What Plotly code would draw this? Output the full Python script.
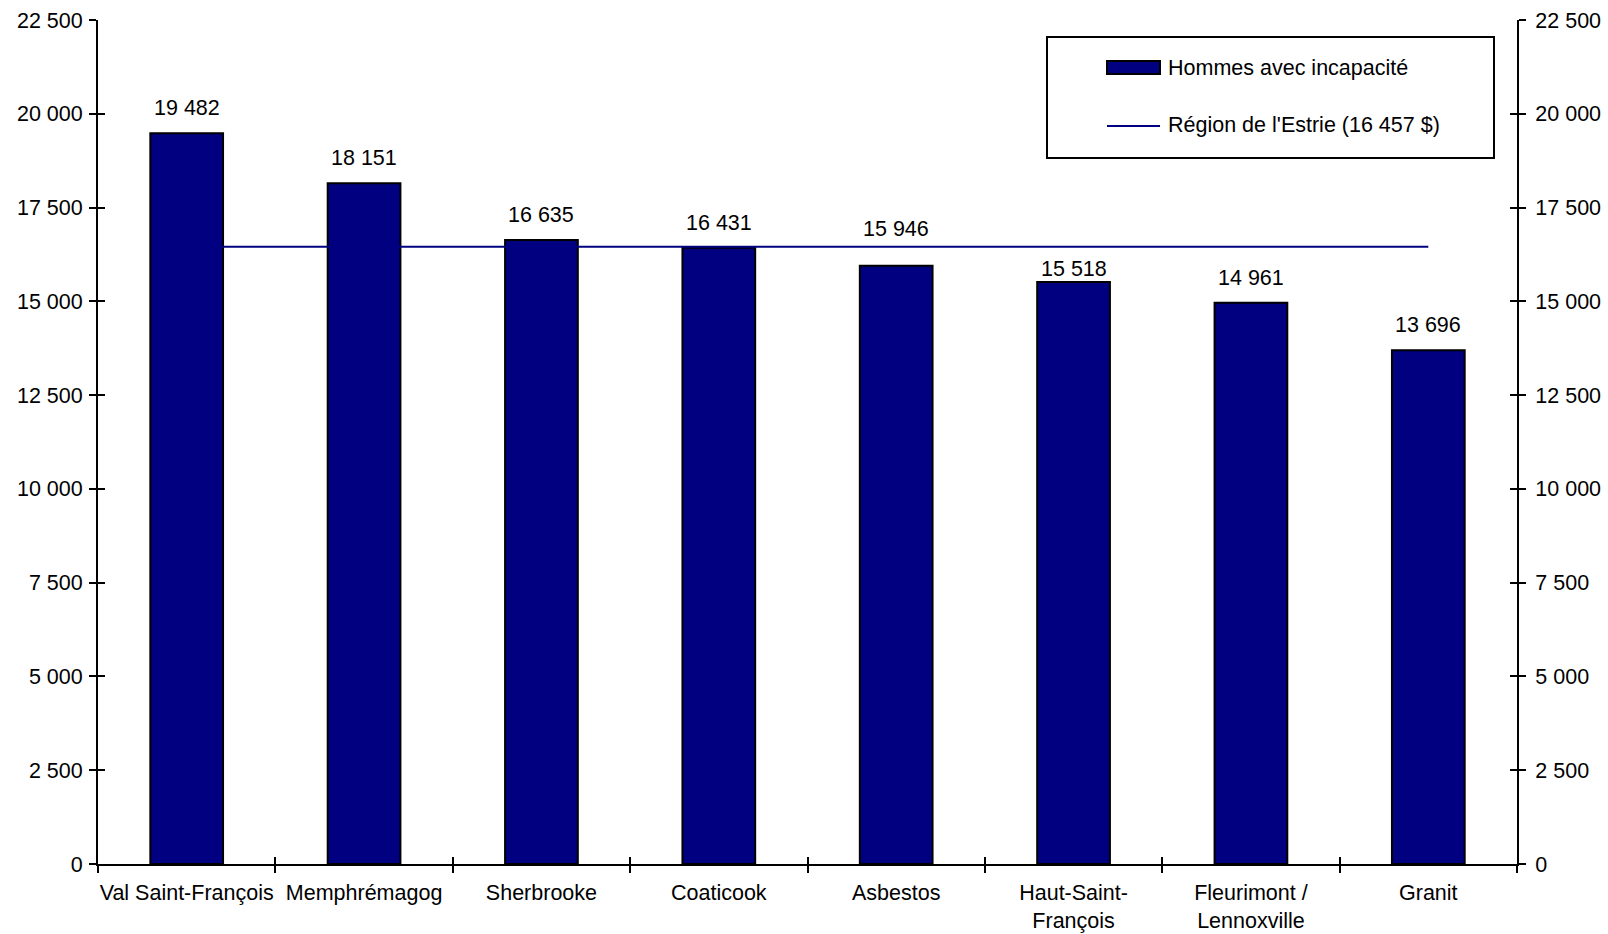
import plotly.graph_objects as go

categories = ["Val Saint-François", "Memphrémagog", "Sherbrooke", "Coaticook",
              "Asbestos", "Haut-Saint-<br>François", "Fleurimont /<br>Lennoxville", "Granit"]
values = [19482, 18151, 16635, 16431, 15946, 15518, 14961, 13696]
region_value = 16457
bar_name = "Hommes avec incapacité"
line_name = "Région de l'Estrie (16 457 $)"
tick_vals = [0, 2500, 5000, 7500, 10000, 12500, 15000, 17500, 20000, 22500]
tick_text = ["0", "2 500", "5 000", "7 500", "10 000", "12 500", "15 000", "17 500", "20 000", "22 500"]

NAVY = "#000080"
FONT = dict(family="Liberation Sans, Arial, sans-serif", size=21.5, color="black")

W, H = 1608, 934
L, R, T, B = 98, 91, 20, 70
PW, PH = W - L - R, H - T - B

# label offsets (px) to keep value labels clear of the region line
label_shift = [11, 11, 11, 11, 23, -1, 11, 11]


def px(x):
    return (x - L) / PW


def py(y):
    return (H - B - y) / PH


fig = go.Figure()
fig.add_trace(go.Bar(x=categories, y=values, name=bar_name, width=0.41,
                     marker=dict(color=NAVY, line=dict(color="black", width=2)),
                     xaxis="x", yaxis="y", showlegend=False))
fig.add_trace(go.Scatter(x=categories, y=[region_value] * len(categories), name=line_name,
                         mode="lines", line=dict(color=NAVY, width=2),
                         xaxis="x2", yaxis="y2", showlegend=False))

annotations = []
for c, v, s in zip(categories, values, label_shift):
    annotations.append(dict(x=c, y=v, xref="x", yref="y", text=f"{v:,}".replace(",", " "),
                            showarrow=False, yanchor="bottom", yshift=s, font=FONT))

# legend (manual)
annotations.append(dict(x=px(1166), y=py(68), xref="paper", yref="paper", text=bar_name,
                        showarrow=False, xanchor="left", yanchor="middle", font=FONT))
annotations.append(dict(x=px(1166), y=py(125), xref="paper", yref="paper", text=line_name,
                        showarrow=False, xanchor="left", yanchor="middle", font=FONT))
shapes = [
    dict(type="rect", xref="paper", yref="paper", x0=px(1047), x1=px(1494), y0=py(158), y1=py(37),
         line=dict(color="black", width=2), fillcolor="white", layer="below"),
    dict(type="rect", xref="paper", yref="paper", x0=px(1107), x1=px(1160), y0=py(74), y1=py(61),
         line=dict(color="black", width=2), fillcolor=NAVY),
    dict(type="line", xref="paper", yref="paper", x0=px(1107), x1=px(1160), y0=py(126), y1=py(126),
         line=dict(color=NAVY, width=2)),
]

axis_common = dict(showgrid=False, zeroline=False, showline=True, linecolor="black", linewidth=2,
                   tickcolor="black", tickwidth=2, ticklen=7, tickfont=FONT, automargin=False)

fig.update_layout(
    width=W, height=H,
    margin=dict(l=L, r=R, t=T, b=B, pad=0),
    paper_bgcolor="white", plot_bgcolor="white",
    font=FONT,
    xaxis=dict(type="category", range=[-0.5, 7.5], tickson="boundaries", ticks="outside",
               tickangle=0, ticklabelstandoff=8, **axis_common),
    xaxis2=dict(type="category", range=[-0.5, 7.5], overlaying="x", side="bottom",
                tickson="boundaries", ticks="inside", showticklabels=False, **axis_common),
    yaxis=dict(range=[0, 22500], tickvals=tick_vals, ticktext=tick_text, ticks="outside",
               mirror="ticks", ticklabelstandoff=2, **axis_common),
    yaxis2=dict(range=[0, 22500], tickvals=tick_vals, ticktext=tick_text, ticks="inside",
                mirror="ticks", overlaying="y", side="right", ticklabelstandoff=12, **axis_common),
    annotations=annotations,
    shapes=shapes,
    showlegend=False,
)

fig.write_html("out.html")
